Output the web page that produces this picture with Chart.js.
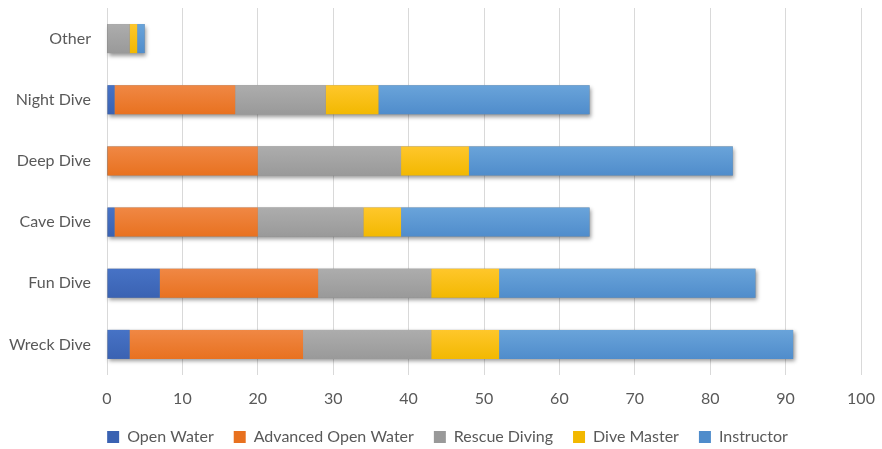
<!DOCTYPE html>
<html>
<head>
<meta charset="utf-8">
<script src="https://cdn.jsdelivr.net/npm/chart.js@4"></script>
<style>
  html, body { margin: 0; padding: 0; background: #fff; overflow: hidden; }
  #wrap { width: 882px; height: 449px; position: relative; }
</style>
</head>
<body>
<div id="wrap"><canvas id="diveChart"></canvas></div>
<script>
const diveTypes = ['Other', 'Night Dive', 'Deep Dive', 'Cave Dive', 'Fun Dive', 'Wreck Dive'];
const openWater = [0, 1, 0, 1, 7, 3];
const advancedOpenWater = [0, 16, 20, 19, 21, 23];
const rescueDiving = [3, 12, 19, 14, 15, 17];
const diveMaster = [1, 7, 9, 5, 9, 9];
const instructor = [1, 28, 35, 25, 34, 39];
const xTicks = [0, 10, 20, 30, 40, 50, 60, 70, 80, 90, 100];

const textColor = '#595959';
const fontFamily = 'Lato, "Open Sans", sans-serif';

// one soft shadow under each whole stacked bar
const barShadow = {
    id: 'barShadow',
    beforeDatasetsDraw(chart) {
        const metas = chart.getSortedVisibleDatasetMetas();
        const first = metas[0];
        const last = metas[metas.length - 1];
        const c = chart.ctx;
        c.save();
        c.shadowColor = 'rgba(0,0,0,0.4)';
        c.shadowBlur = 4;
        c.shadowOffsetX = 1.5;
        c.shadowOffsetY = 2.5;
        c.fillStyle = '#888';
        first.data.forEach((el, i) => {
            const end = last.data[i];
            c.fillRect(el.base, el.y - el.height / 2, end.x - el.base, el.height);
        });
        c.restore();
    }
};

// legend row sits a little right of the canvas centre
const legendShift = {
    id: 'legendShift',
    afterLayout(chart) {
        chart.legend.left += 17;
        chart.legend.right += 17;
    }
};

// slight top-to-bottom shading like the office bar style
function shaded(top, bottom) {
    return (context) => {
        const chart = context.chart;
        const yScale = chart.scales.y;
        if (!yScale || context.type !== 'data') return bottom;
        const cy = yScale.getPixelForValue(context.dataIndex);
        if (!isFinite(cy)) return bottom;
        const g = chart.ctx.createLinearGradient(0, cy - 15, 0, cy + 15);
        g.addColorStop(0, top);
        g.addColorStop(1, bottom);
        return g;
    };
}

function series(label, data, top, bottom) {
    return {
        label: label,
        data: data,
        backgroundColor: shaded(top, bottom),
        borderWidth: 0,
        barPercentage: 0.95,
        categoryPercentage: 0.5
    };
}

let ctx = document.getElementById('diveChart').getContext('2d');
let diveChart = new Chart(ctx, {
    type: 'bar',
    data: {
        labels: diveTypes,
        datasets: [
            series('Open Water', openWater, '#4773C6', '#3A62B2'),
            series('Advanced Open Water', advancedOpenWater, '#F08845', '#E8711F'),
            series('Rescue Diving', rescueDiving, '#ADADAD', '#999999'),
            series('Dive Master', diveMaster, '#FFC72C', '#F2B800'),
            series('Instructor', instructor, '#6AA4DA', '#4F8CCB')
        ]
    },
    plugins: [barShadow, legendShift],
    options: {
        indexAxis: 'y',
        responsive: true,
        maintainAspectRatio: false,
        animation: false,
        layout: { padding: { top: 8, right: 21, bottom: -6, left: 0 } },
        scales: {
            x: {
                stacked: true,
                min: 0,
                max: 100,
                afterBuildTicks: (scale) => { scale.ticks = xTicks.map(v => ({ value: v })); },
                afterFit: (scale) => {
                    scale.height = 34;
                    scale.paddingLeft = 0;
                    scale.paddingRight = 0;
                },
                grid: { color: '#D9D9D9', drawTicks: false },
                border: { display: false },
                ticks: { color: textColor, padding: 14, font: { family: fontFamily, size: 16 } }
            },
            y: {
                stacked: true,
                afterFit: (scale) => {
                    scale.width = 107;
                    scale.paddingTop = 0;
                    scale.paddingBottom = 0;
                },
                grid: { display: false, drawTicks: false },
                border: { display: false },
                ticks: { color: textColor, padding: 16, font: { family: fontFamily, size: 16 } }
            }
        },
        plugins: {
            legend: {
                position: 'bottom',
                labels: {
                    color: textColor,
                    boxWidth: 12,
                    boxHeight: 12,
                    padding: 20,
                    font: { family: fontFamily, size: 16 }
                }
            },
            tooltip: { enabled: false }
        }
    }
});
</script>
</body>
</html>
